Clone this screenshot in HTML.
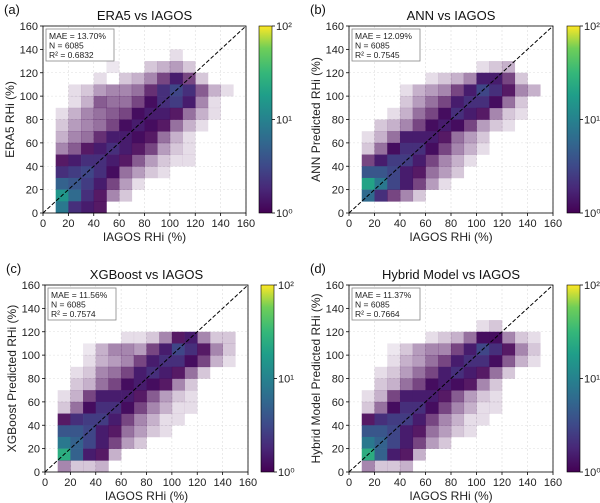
<!DOCTYPE html>
<html><head><meta charset="utf-8">
<style>
body{margin:0;background:#fff;}
svg{display:block;font-family:"Liberation Sans","DejaVu Sans",sans-serif;}
</style></head>
<body>
<svg id="fig" width="600" height="503" viewBox="0 0 600 503" xmlns="http://www.w3.org/2000/svg">
<defs>
<linearGradient id="vir" x1="0" y1="1" x2="0" y2="0">
<stop offset="0" stop-color="#440154"/><stop offset="0.13" stop-color="#482878"/><stop offset="0.25" stop-color="#3e4989"/><stop offset="0.38" stop-color="#31688e"/><stop offset="0.5" stop-color="#26828e"/><stop offset="0.63" stop-color="#1f9e89"/><stop offset="0.75" stop-color="#35b779"/><stop offset="0.88" stop-color="#6ece58"/><stop offset="1" stop-color="#fde725"/>
</linearGradient>
</defs>
</svg>
<script>
// Coarse 10%-bin densities (rows top y=150-160 down to y=0-10; columns x=0-10 .. 150-160)
const ticks = [0,20,40,60,80,100,120,140,160];
const cbTicks = ["10\u2070","10\u00b9","10\u00b2"];
const titles = ["ERA5 vs IAGOS","ANN vs IAGOS","XGBoost vs IAGOS","Hybrid Model vs IAGOS"];
const panelLabels = ["(a)","(b)","(c)","(d)"];
const yLabels = ["ERA5 RHi (%)","ANN Predicted RHi (%)","XGBoost Predicted RHi (%)","Hybrid Model Predicted RHi (%)"];
const maeVals = ["13.70%","12.09%","11.56%","11.37%"];
const nVals = ["6085","6085","6085","6085"];
const r2Vals = ["0.6832","0.7545","0.7574","0.7664"];
const densA = [
[0,0,0,0,0,0,0,0,0,0,0,0,0,0,0,0],
[0,0,0,0,0,0,0,0,0,0,0,0,0,0,0,0],
[0,0,0,0,0,0,0,0,0,0,.1,0,0,0,0,0],
[0,0,0,0,0,.05,0,0,.2,.3,.4,.2,0,0,0,0],
[0,0,0,0,.1,0,.2,.3,.5,.8,1.5,.8,.2,0,0,0],
[0,0,.1,.2,.4,.5,.5,.6,.9,2,3,2,.7,.3,.1,0],
[0,0,.1,.3,.7,.6,.6,.8,1.2,2,2.5,1.5,.5,.1,0,0],
[0,.1,.3,.5,.6,.7,.8,1.2,1.5,1.5,1,.6,.3,.1,0,0],
[0,.2,.4,.5,.6,.8,1.2,1.5,1.2,1,.6,.3,.1,0,0,0],
[0,.3,.5,.6,.9,1.5,1.5,1.2,1,.6,.3,.1,0,0,0,0],
[0,.5,.7,1,1.5,2,1.5,1,.8,.4,.2,.1,0,0,0,0],
[0,1,1.5,2,2,1.5,1,.7,.4,.2,.1,.1,0,0,0,0],
[0,2,2.5,3,2,1.2,.6,.4,.2,.1,0,0,0,0,0,0],
[0,5,4,2.5,1.5,.8,.4,.1,0,0,0,0,0,0,0,0],
[0,15,6,2,1,.5,.2,0,0,0,0,0,0,0,0,0],
[0,8,2,1.5,1,0,0,0,0,0,0,0,0,0,0,0]];
const densB = [
[0,0,0,0,0,0,0,0,0,0,0,0,0,0,0,0],
[0,0,0,0,0,0,0,0,0,0,0,0,0,0,0,0],
[0,0,0,0,0,0,0,0,0,0,0,0,0,0,0,0],
[0,0,0,0,0,0,0,0,0,0,.1,.2,.3,0,0,0],
[0,0,0,0,0,0,.1,.2,.3,.5,1.5,1.5,.8,.2,0,0],
[0,0,0,0,.1,.3,.4,.5,.8,1.5,3,2,1,.5,.3,0],
[0,0,0,0,.2,.4,.6,.8,1.5,2,2,1.2,.6,.2,0,0],
[0,0,0,.1,.3,.6,.8,1.2,2,1.5,1,.5,.2,.1,0,0],
[0,0,.2,.3,.5,.8,1.2,1.5,1.2,.8,.4,.2,.1,0,0,0],
[0,.1,.3,.6,1.5,1.5,1.5,1,.6,.4,.2,0,0,0,0,0],
[0,.2,.6,1.2,2,2,1.2,.8,.5,.3,.1,0,0,0,0,0],
[0,.8,1.5,2.5,2.5,1.5,.8,.5,.3,.1,0,0,0,0,0,0],
[0,4,4,3,1.5,1,.6,.4,.2,0,0,0,0,0,0,0],
[0,20,8,3,1.5,.8,.4,.1,0,0,0,0,0,0,0,0],
[0,6,2,.8,.5,.2,0,0,0,0,0,0,0,0,0,0],
[0,0,0,0,0,0,0,0,0,0,0,0,0,0,0,0]];
const densC = [
[0,0,0,0,0,0,0,0,0,0,0,0,0,0,0,0],
[0,0,0,0,0,0,0,0,0,0,0,0,0,0,0,0],
[0,0,0,0,0,0,0,0,0,0,0,0,0,0,0,0],
[0,0,0,0,0,0,0,0,0,0,0,0,0,0,0,0],
[0,0,0,0,0,0,.1,.1,.2,.5,1,1.5,.5,.2,.2,0],
[0,0,0,.05,.3,.5,.5,.4,.8,1.5,3,2,1,.5,.2,0],
[0,0,0,.1,.3,.4,.5,.8,1.5,2,2,1.2,.8,.3,.1,0],
[0,0,.1,.2,.5,.6,.8,1.5,2,1.5,1,.6,.2,0,0,0],
[0,0,.2,.3,.6,.8,1.2,1.5,1.2,1,.5,.2,0,0,0,0],
[0,.1,.3,.8,1.5,1.5,1.5,1,.7,.4,.2,.1,0,0,0,0],
[0,.2,.6,1.2,2,2,1.2,.8,.5,.3,.1,.1,0,0,0,0],
[0,1,2,2.5,2.5,1.5,.8,.5,.3,.1,.1,0,0,0,0,0],
[0,4,4,3,1.5,1,.6,.4,.2,.1,0,0,0,0,0,0],
[0,8,5,3,1.5,.8,.4,.2,0,0,0,0,0,0,0,0],
[0,25,5,1.5,1,.3,0,0,0,0,0,0,0,0,0,0],
[0,.5,.2,.2,.3,0,0,0,0,0,0,0,0,0,0,0]];
const densD = [
[0,0,0,0,0,0,0,0,0,0,0,0,0,0,0,0],
[0,0,0,0,0,0,0,0,0,0,0,0,0,0,0,0],
[0,0,0,0,0,0,0,0,0,0,0,0,0,0,0,0],
[0,0,0,0,0,0,0,0,0,0,.1,.2,0,0,0,0],
[0,0,0,0,0,0,.1,.2,.3,.6,1.2,1.2,.5,.2,.1,0],
[0,0,0,.05,.2,.4,.5,.5,.8,1.5,3,2,1,.5,.2,0],
[0,0,0,.1,.3,.4,.6,.8,1.5,2,2,1.2,.7,.3,.1,0],
[0,0,.1,.2,.4,.6,.8,1.5,2,1.5,1,.6,.2,0,0,0],
[0,0,.2,.3,.6,.8,1.2,1.5,1.2,1,.5,.2,0,0,0,0],
[0,.1,.3,.8,1.5,1.5,1.5,1,.7,.4,.2,.1,0,0,0,0],
[0,.2,.6,1.2,2,2,1.2,.8,.5,.3,.1,.1,0,0,0,0],
[0,1,2,2.5,2.5,1.5,.8,.5,.3,.1,.1,0,0,0,0,0],
[0,4,4,3,1.5,1,.6,.4,.2,.1,0,0,0,0,0,0],
[0,8,5,3,1.5,.8,.4,.2,0,0,0,0,0,0,0,0],
[0,25,5,1.5,1,.3,0,0,0,0,0,0,0,0,0,0],
[0,.5,.2,.2,.3,0,0,0,0,0,0,0,0,0,0,0]];
const densities = [densA,densB,densC,densD];

const NS = "http://www.w3.org/2000/svg";
const svg = document.getElementById('fig');
const vir = [[68,1,84],[72,40,120],[62,73,137],[49,104,142],[38,130,142],[31,158,137],[53,183,121],[110,206,88],[253,231,37]];
function viridis(t){t=Math.max(0,Math.min(1,t));const p=t*(vir.length-1);const i=Math.min(vir.length-2,Math.floor(p));const f=p-i;const c=vir[i].map((v,k)=>Math.round(v+(vir[i+1][k]-v)*f));return `rgb(${c[0]},${c[1]},${c[2]})`;}
function mk(tag,attrs,parent){const e=document.createElementNS(NS,tag);for(const k in attrs)e.setAttribute(k,attrs[k]);(parent||svg).appendChild(e);return e;}
const layout = [
 {x0:43,x1:246,y0:26,y1:213,cb:259},
 {x0:349,x1:553,y0:26,y1:213,cb:567},
 {x0:45,x1:248,y0:285,y1:472,cb:261},
 {x0:349,x1:553,y0:285,y1:472,cb:567}];
const names=["era5","ann","xgboost","hybrid"];
layout.forEach((L,p)=>{
  const g=mk('g',{});
  
  
  const sx=v=>L.x0+(v/160)*(L.x1-L.x0);
  const sy=v=>L.y1-(v/160)*(L.y1-L.y0);
  // grid
  ticks.forEach(t=>{
    const gl=mk('line',{x1:sx(t),x2:sx(t),y1:L.y0,y2:L.y1,stroke:'#ddd','stroke-width':0.6,'stroke-dasharray':'2,2'},g);
    
    
    const gh=mk('line',{x1:L.x0,x2:L.x1,y1:sy(t),y2:sy(t),stroke:'#ddd','stroke-width':0.6,'stroke-dasharray':'2,2'},g);
    
    
  });
  // heatmap cells
  const d=densities[p];
  d.forEach((row,ri)=>{
    const yb=(d.length-1-ri)*10;
    row.forEach((v,ci)=>{
      if(v<=0)return;
      const xb=ci*10;
      const c=mk('rect',{x:sx(xb),y:sy(yb+10),width:sx(xb+10)-sx(xb)+0.3,height:sy(yb)-sy(yb+10)+0.3,fill:viridis(Math.log10(Math.max(v,1))/2),'fill-opacity':Math.min(1,v*0.85+0.05)},g);
      
      
    });
  });
  // diagonal
  const dg=mk('line',{x1:sx(0),y1:sy(0),x2:sx(160),y2:sy(160),stroke:'#000','stroke-width':1,'stroke-dasharray':'4,2'},g);
  
  
  // frame
  const fr=mk('rect',{x:L.x0,y:L.y0,width:L.x1-L.x0,height:L.y1-L.y0,fill:'none',stroke:'#000','stroke-width':0.8},g);
  
  
  // ticks
  ticks.forEach(t=>{
    mk('line',{x1:sx(t),x2:sx(t),y1:L.y1,y2:L.y1+3,stroke:'#000','stroke-width':0.8},g);
    const xt=mk('text',{x:sx(t),y:L.y1+14,'font-size':11,'text-anchor':'middle',fill:'#222'},g);
    xt.textContent=t;
    
    
    mk('line',{x1:L.x0-3,x2:L.x0,y1:sy(t),y2:sy(t),stroke:'#000','stroke-width':0.8},g);
    const yt=mk('text',{x:L.x0-5,y:sy(t)+4,'font-size':11,'text-anchor':'end',fill:'#222'},g);
    yt.textContent=t;
    
    
  });
  const cx=(L.x0+L.x1)/2;
  const xl=mk('text',{x:cx,y:L.y1+28,'font-size':12,'text-anchor':'middle',fill:'#222'},g);
  xl.textContent='IAGOS RHi (%)';
  
  
  const yx=L.x0-29, yy=(L.y0+L.y1)/2;
  const yl=mk('text',{x:yx,y:yy,'font-size':12,'text-anchor':'middle',fill:'#222',transform:`rotate(-90 ${yx} ${yy})`},g);
  yl.textContent=yLabels[p];
  
  
  const ti=mk('text',{x:cx,y:L.y0-6,'font-size':13,'text-anchor':'middle',fill:'#111'},g);
  ti.textContent=titles[p];
  
  
  const pl=mk('text',{x:L.x0-39,y:L.y0-12,'font-size':13,fill:'#111'},g);
  pl.textContent=panelLabels[p];
  
  
  // stats box
  const bx=L.x0+3, by=L.y0+3;
  const sb=mk('rect',{x:bx,y:by,width:68,height:32,fill:'#fff','fill-opacity':0.9,stroke:'#888','stroke-width':0.8},g);
  
  
  ['MAE = '+maeVals[p],'N = '+nVals[p],'R\u00b2 = '+r2Vals[p]].forEach((s,i)=>{
    const st=mk('text',{x:bx+3,y:by+10+i*9.5,'font-size':8.5,fill:'#222'},g);
    st.textContent=s;
    
    
  });
  // colorbar
  const cb=mk('rect',{x:L.cb,y:L.y0,width:13,height:L.y1-L.y0,fill:'url(#vir)',stroke:'#000','stroke-width':0.6},g);
  
  
  cbTicks.forEach((s,i)=>{
    const yv=L.y1-(i/2)*(L.y1-L.y0);
    mk('line',{x1:L.cb+13,x2:L.cb+16,y1:yv,y2:yv,stroke:'#000','stroke-width':0.8},g);
    const ct=mk('text',{x:L.cb+17,y:yv+4,'font-size':11,fill:'#222'},g);
    ct.textContent=s;
    
    
  });
});
</script>
</body></html>
